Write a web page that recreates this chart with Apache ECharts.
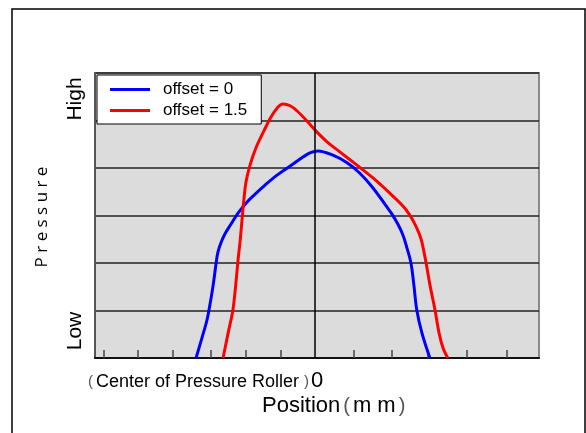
<!DOCTYPE html>
<html>
<head>
<meta charset="utf-8">
<script src="https://cdn.jsdelivr.net/npm/echarts@6/dist/echarts.min.js"></script>
<style>
  html, body { margin: 0; padding: 0; background: #fff; }
  #chart { width: 586px; height: 433px; }
</style>
</head>
<body>
<div id="chart"></div>
<script>
// Pressure profile across the nip, position in mm from the roller centre
const offset0X = [-3.26, -3.10, -2.96, -2.88, -2.79, -2.71, -2.66, -2.58, -2.47, -2.30, -2.11, -1.89, -1.64, -1.37, -1.04, -0.68, -0.33, -0.14, 0.08, 0.49, 0.88, 1.23, 1.59, 1.97, 2.11, 2.27, 2.41, 2.52, 2.63, 2.71, 2.79, 2.93, 3.15];
const offset0Y = [0, 0.42, 0.80, 1.12, 1.54, 2.00, 2.23, 2.42, 2.61, 2.82, 3.05, 3.26, 3.45, 3.64, 3.85, 4.04, 4.23, 4.32, 4.36, 4.27, 4.11, 3.89, 3.58, 3.18, 3.03, 2.82, 2.59, 2.32, 2.00, 1.54, 1.01, 0.53, 0];

const offset15X = [-2.52, -2.38, -2.25, -2.16, -2.11, -2.05, -2.00, -1.95, -1.89, -1.78, -1.62, -1.40, -1.21, -1.04, -0.88, -0.68, -0.49, -0.22, 0.05, 0.33, 0.68, 1.15, 1.59, 2.05, 2.41, 2.58, 2.71, 2.85, 2.93, 3.04, 3.15, 3.29, 3.40, 3.51, 3.64];
const offset15Y = [0, 0.53, 1.01, 1.64, 2.06, 2.48, 2.91, 3.33, 3.71, 4.06, 4.42, 4.78, 5.07, 5.26, 5.35, 5.31, 5.20, 4.99, 4.76, 4.55, 4.34, 4.06, 3.79, 3.47, 3.20, 3.03, 2.86, 2.63, 2.44, 2.02, 1.54, 1.01, 0.53, 0.21, 0];

const seriesNames = ['offset = 0', 'offset = 1.5'];
const xTickValues = [-5.8, -4.85, -3.9, -2.85, -1.9, -0.95, 1.05, 2.1, 3.1, 4.15, 5.25];
const yTickLabels = ['Low', 'High'];

const zip = (xs, ys) => xs.map((x, i) => [x, ys[i]]);

const FONT = '"Liberation Sans", Arial, "Noto Sans CJK JP", sans-serif';

const chart = echarts.init(document.getElementById('chart'), null, { renderer: 'canvas' });

chart.setOption({
  animation: false,
  backgroundColor: '#ffffff',
  grid: {
    left: 95, top: 73, right: 47, bottom: 75,
    show: true,
    backgroundColor: '#dcdcdc',
    borderColor: '#8a8a8a',
    borderWidth: 2
  },
  legend: {
    data: seriesNames,
    orient: 'vertical',
    left: 97, top: 75,
    padding: [6, 14, 5, 13],
    icon: 'rect',
    itemWidth: 40,
    itemHeight: 3,
    itemGap: 4,
    backgroundColor: '#ffffff',
    borderColor: '#000000',
    borderWidth: 1,
    borderRadius: 0,
    textStyle: { fontFamily: FONT, fontSize: 17, color: '#000', padding: [0, 0, 0, 8], lineHeight: 17 }
  },
  xAxis: {
    type: 'value',
    min: -6.03, max: 6.14,
    axisLine: { show: true, onZero: false, lineStyle: { color: '#111', width: 2 } },
    axisTick: { show: true, inside: true, length: 8, customValues: xTickValues, lineStyle: { color: '#444', width: 1.5 } },
    axisLabel: { show: false },
    splitLine: { show: false }
  },
  yAxis: {
    type: 'value',
    min: 0, max: 6, interval: 1,
    axisLine: { show: true, onZero: false, lineStyle: { color: '#555', width: 2 } },
    axisTick: { show: false },
    axisLabel: { show: false },
    splitLine: { show: true, lineStyle: { color: '#222', width: 1.5 } }
  },
  series: [
    {
      name: 'centre',
      type: 'line',
      data: [],
      silent: true,
      z: 1,
      markLine: {
        silent: true,
        symbol: 'none',
        label: { show: false },
        lineStyle: { color: '#000', width: 1.5, type: 'solid' },
        data: [{ xAxis: 0 }]
      }
    },
    {
      name: seriesNames[0],
      type: 'line',
      data: zip(offset0X, offset0Y),
      smooth: 0.35,
      symbol: 'none',
      z: 3,
      lineStyle: { color: '#0000ff', width: 3 },
      itemStyle: { color: '#0000ff' }
    },
    {
      name: seriesNames[1],
      type: 'line',
      data: zip(offset15X, offset15Y),
      smooth: 0.35,
      symbol: 'none',
      z: 3,
      lineStyle: { color: '#ff0000', width: 3 },
      itemStyle: { color: '#ff0000' }
    }
  ],
  graphic: [
    {
      type: 'rect', silent: true, z: 100,
      shape: { x: 12, y: 9, width: 573, height: 500 },
      style: { fill: 'none', stroke: '#000', lineWidth: 1.5 }
    },
    {
      type: 'text', x: 75, y: 99, rotation: Math.PI / 2,
      style: { text: yTickLabels[1], font: '21px ' + FONT, fill: '#000', align: 'center', verticalAlign: 'middle' }
    },
    {
      type: 'text', x: 75, y: 331, rotation: Math.PI / 2,
      style: { text: yTickLabels[0], font: '21px ' + FONT, fill: '#000', align: 'center', verticalAlign: 'middle' }
    },
    {
      type: 'text', x: 42, y: 217, rotation: Math.PI / 2,
      style: { text: 'P r e s s u r e', font: '17px "Open Sans", "Noto Sans", sans-serif', fill: '#000', align: 'center', verticalAlign: 'middle' }
    },
    {
      type: 'text', x: 88, y: 382,
      style: {
        text: '{p|(}{t|Center of Pressure Roller }{q|)}{z|0}',
        verticalAlign: 'middle',
        align: 'left',
        rich: {
          p: { fontFamily: FONT, fontSize: 15, fill: '#555', padding: [0, 3, 0, 0] },
          q: { fontFamily: FONT, fontSize: 15, fill: '#555', padding: [0, 2, 0, 0] },
          t: { fontFamily: FONT, fontSize: 18, fill: '#000' },
          z: { fontFamily: FONT, fontSize: 22, fill: '#000', padding: [0, 0, 2, 0] }
        }
      }
    },
    {
      type: 'text', x: 262, y: 406,
      style: {
        text: '{t|Position}{p|(}{m|m m}{p|)}',
        verticalAlign: 'middle',
        align: 'left',
        rich: {
          t: { fontFamily: FONT, fontSize: 22, fill: '#000' },
          p: { fontFamily: FONT, fontSize: 20, fill: '#555', padding: [0, 3, 0, 3] },
          m: { fontFamily: FONT, fontSize: 22, fill: '#000' }
        }
      }
    }
  ]
});
</script>
</body>
</html>
